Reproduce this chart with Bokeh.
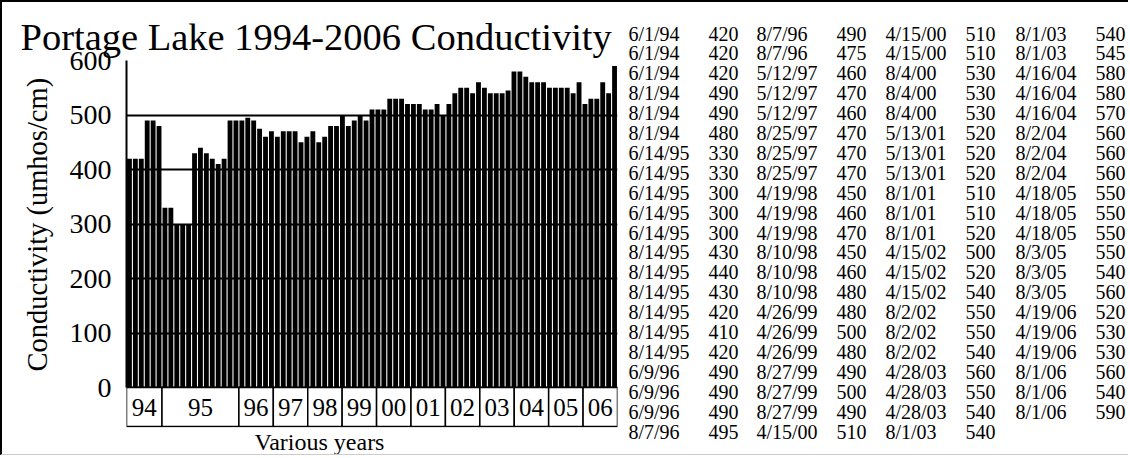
from bokeh.plotting import figure
from bokeh.layouts import row, column
from bokeh.models import Range1d, FixedTicker, Title
from bokeh.embed import file_html
from bokeh.resources import INLINE
from bokeh.core.properties import value

# ---------------- data ----------------
dates = [
    "6/1/94", "6/1/94", "6/1/94", "8/1/94", "8/1/94", "8/1/94",
    "6/14/95", "6/14/95", "6/14/95", "6/14/95", "6/14/95",
    "8/14/95", "8/14/95", "8/14/95", "8/14/95", "8/14/95", "8/14/95",
    "6/9/96", "6/9/96", "6/9/96", "8/7/96",
    "8/7/96", "8/7/96", "5/12/97", "5/12/97", "5/12/97", "8/25/97", "8/25/97", "8/25/97",
    "4/19/98", "4/19/98", "4/19/98", "8/10/98", "8/10/98", "8/10/98",
    "4/26/99", "4/26/99", "4/26/99", "8/27/99", "8/27/99", "8/27/99", "4/15/00",
    "4/15/00", "4/15/00", "8/4/00", "8/4/00", "8/4/00", "5/13/01", "5/13/01", "5/13/01",
    "8/1/01", "8/1/01", "8/1/01", "4/15/02", "4/15/02", "4/15/02", "8/2/02", "8/2/02", "8/2/02",
    "4/28/03", "4/28/03", "4/28/03", "8/1/03",
    "8/1/03", "8/1/03", "4/16/04", "4/16/04", "4/16/04", "8/2/04", "8/2/04", "8/2/04",
    "4/18/05", "4/18/05", "4/18/05", "8/3/05", "8/3/05", "8/3/05",
    "4/19/06", "4/19/06", "4/19/06", "8/1/06", "8/1/06", "8/1/06",
]
conductivity = [
    420, 420, 420, 490, 490, 480,
    330, 330, 300, 300, 300,
    430, 440, 430, 420, 410, 420,
    490, 490, 490, 495,
    490, 475, 460, 470, 460, 470, 470, 470,
    450, 460, 470, 450, 460, 480,
    480, 500, 480, 490, 500, 490, 510,
    510, 510, 530, 530, 530, 520, 520, 520,
    510, 510, 520, 500, 520, 540, 550, 550, 540,
    560, 550, 540, 540,
    540, 545, 580, 580, 570, 560, 560, 560,
    550, 550, 550, 550, 540, 560,
    520, 530, 530, 560, 540, 590,
]
year_labels = ["94", "95", "96", "97", "98", "99", "00", "01", "02", "03", "04", "05", "06"]
y_ticks = [0, 100, 200, 300, 400, 500, 600]
rows_per_column = [21, 21, 21, 20]

title_text = "Portage Lake 1994-2006 Conductivity"
y_title = "Conductivity (umhos/cm)"
x_title = "Various years"

# ---------------- layout (page pixels) ----------------
BW = 2                       # outer border line width (top/left)
BB_W = 1                     # bottom border line width
PAGE_W, PAGE_H = 1130, 458
SPLIT = 620                  # chart | table
F_LEFT, F_RIGHT, F_TOP = 126, 617, 60
Y0 = 388                     # page y of value 0
F_BOTTOM = 428               # frame bottom (year boxes end just above)
BOX_BOTTOM = 427
FONT = "Liberation Serif"
n = len(conductivity)
units_per_px = 600.0 / (Y0 - F_TOP)
ymin = -(F_BOTTOM - Y0) * units_per_px
box_bottom = -(BOX_BOTTOM - Y0) * units_per_px
fig_h = PAGE_H - BW - BB_W

# ---- bar chart with year boxes ----
p = figure(width=SPLIT - BW, height=fig_h, output_backend="svg", toolbar_location=None,
           x_range=Range1d(0, n), y_range=Range1d(ymin, 600),
           min_border_left=F_LEFT - BW, min_border_right=SPLIT - F_RIGHT,
           min_border_top=F_TOP - BW, min_border_bottom=PAGE_H - BB_W - F_BOTTOM)
p.styles = {"border-top": f"{BW}px solid black", "border-left": f"{BW}px solid black",
            "border-bottom": f"{BB_W}px solid #cccccc"}
p.outline_line_color = None
p.border_fill_color = "white"

p.title.text = title_text
p.title.text_font = FONT
p.title.text_font_size = "38.5px"
p.title.text_font_style = "normal"
p.title.text_color = "black"
p.title.align = "left"
p.title.offset = 20 - F_LEFT
p.title.standoff = 6

p.xaxis.visible = False
p.xgrid.visible = False
p.ygrid.ticker = FixedTicker(ticks=y_ticks)
p.ygrid.grid_line_color = "black"
p.ygrid.grid_line_width = 2

ax = p.yaxis[0]
ax.ticker = FixedTicker(ticks=y_ticks)
ax.bounds = (0, 600)
ax.axis_line_color = "black"
ax.axis_line_width = 2
ax.major_tick_line_color = None
ax.minor_tick_line_color = None
ax.major_label_standoff = 9
ax.major_label_text_font = FONT
ax.major_label_text_font_size = "28px"
ax.major_label_text_color = "black"

# y axis title, placed along the 0..600 part of the axis
p.add_layout(Title(text=y_title, align="left", offset=F_BOTTOM - 372, standoff=28,
                   text_font=FONT, text_font_size="28.5px", text_font_style="normal",
                   text_color="black"), "left")
# x axis title
p.add_layout(Title(text=x_title, align="left", offset=254 - F_LEFT, standoff=2,
                   vertical_align="top", text_font=FONT, text_font_size="24px",
                   text_font_style="normal", text_color="black"), "below")

xs = [i + 0.5 for i in range(n)]
p.vbar(x=xs, top=conductivity, bottom=0, width=0.82, fill_color="black", line_color=None)

# year boxes: 94 and 95 as wide as in the picture, the others share the rest equally
edges = [0, 6, 19]
rest = len(year_labels) - 2
for k in range(1, rest + 1):
    edges.append(19 + k * (n - 19) / rest)
lefts, rights = edges[:-1], edges[1:]
p.quad(left=lefts, right=rights, bottom=box_bottom, top=0, fill_color="white",
       line_color="black", line_width=1.5)
p.text(x=[(a + b) / 2 for a, b in zip(lefts, rights)], y=[box_bottom / 2] * len(year_labels),
       text=year_labels, text_font=value(FONT), text_font_size="25px",
       text_align="center", text_baseline="middle", text_color="black")

# ---- data table ----
pt = figure(width=PAGE_W - SPLIT, height=fig_h, output_backend="svg",
            toolbar_location=None, x_range=Range1d(SPLIT, PAGE_W),
            y_range=Range1d(PAGE_H - BB_W, BW), min_border=0)
pt.styles = {"border-top": f"{BW}px solid black", "border-bottom": f"{BB_W}px solid #cccccc"}
pt.outline_line_color = None
pt.border_fill_color = "white"
pt.axis.visible = False
pt.grid.visible = False

date_x = [630, 758, 887, 1017]
val_x = [710, 838, 967, 1097]
tx, ty, tt = [], [], []
start = 0
for c, cnt in enumerate(rows_per_column):
    for r in range(cnt):
        i = start + r
        yy = 33 + 19.9 * r
        tx += [date_x[c], val_x[c]]
        ty += [yy, yy]
        tt += [dates[i], str(conductivity[i])]
    start += cnt
pt.text(x=tx, y=ty, text=tt, text_font=value(FONT), text_font_size="20px",
        text_baseline="middle", text_align="left", text_color="black")

layout = row(column(p, spacing=0), column(pt, spacing=0), spacing=0)
open("out.html", "w").write(file_html(layout, INLINE))
